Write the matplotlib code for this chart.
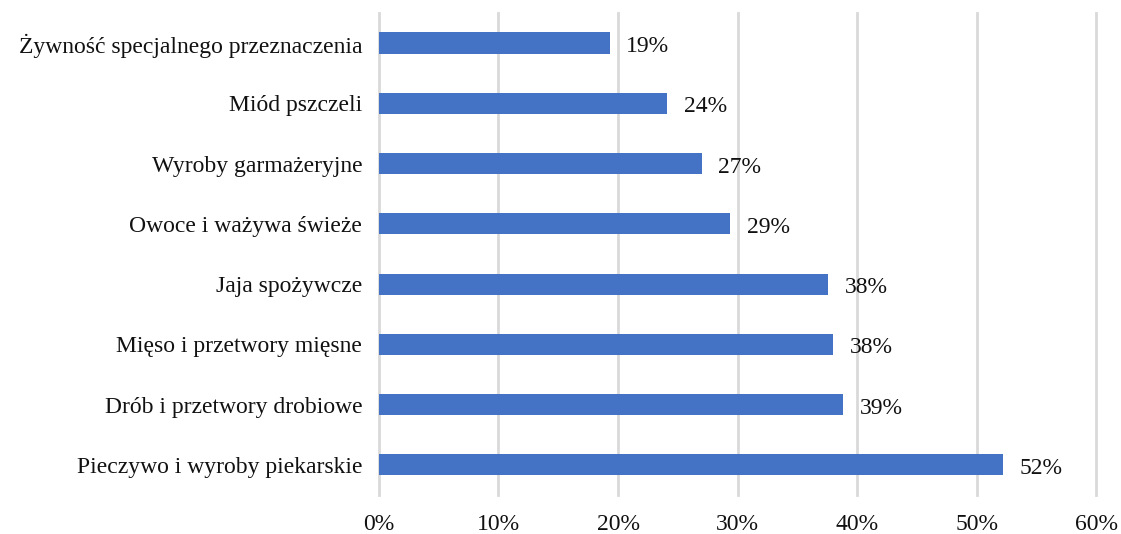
import matplotlib.pyplot as plt
from matplotlib.ticker import PercentFormatter

plt.rcParams['font.family'] = ['Liberation Serif', 'DejaVu Serif']

# categories listed bottom to top
categories = ["Pieczywo i wyroby piekarskie",
              "Drób i przetwory drobiowe",
              "Mięso i przetwory mięsne",
              "Jaja spożywcze",
              "Owoce i ważywa świeże",
              "Wyroby garmażeryjne",
              "Miód pszczeli",
              "Żywność specjalnego przeznaczenia"]
values = [52.2, 38.8, 38.0, 37.6, 29.4, 27.0, 24.1, 19.3]
labels = ["52%", "39%", "38%", "38%", "29%", "27%", "24%", "19%"]

fig = plt.figure(figsize=(11.21, 5.34), dpi=100)
ax = fig.add_axes([0.338, 0.073, 0.640, 0.903])

y = range(len(categories))
ax.barh(y, values, height=0.35, color="#4472C4", zorder=3)
for i, v in enumerate(values):
    ax.text(v + 1.4, i - 0.06, labels[i], va="center", ha="left", fontsize=17, color="#111111")

ax.set_xlim(0, 60)
ax.set_ylim(-0.5, len(categories) - 0.5)
ax.set_xticks(range(0, 61, 10))
ax.xaxis.set_major_formatter(PercentFormatter(decimals=0))
ax.set_yticks(list(y))
ax.set_yticklabels(categories)
ax.tick_params(axis="both", length=0, labelsize=17, colors="#111111")
ax.tick_params(axis="x", pad=14)
ax.tick_params(axis="y", pad=12)
ax.grid(axis="x", color="#D9D9D9", linewidth=2, zorder=0)
for g in ax.get_xgridlines():
    g.set_clip_on(False)
for s in ax.spines.values():
    s.set_visible(False)

fig.savefig("out.png", dpi=100)
